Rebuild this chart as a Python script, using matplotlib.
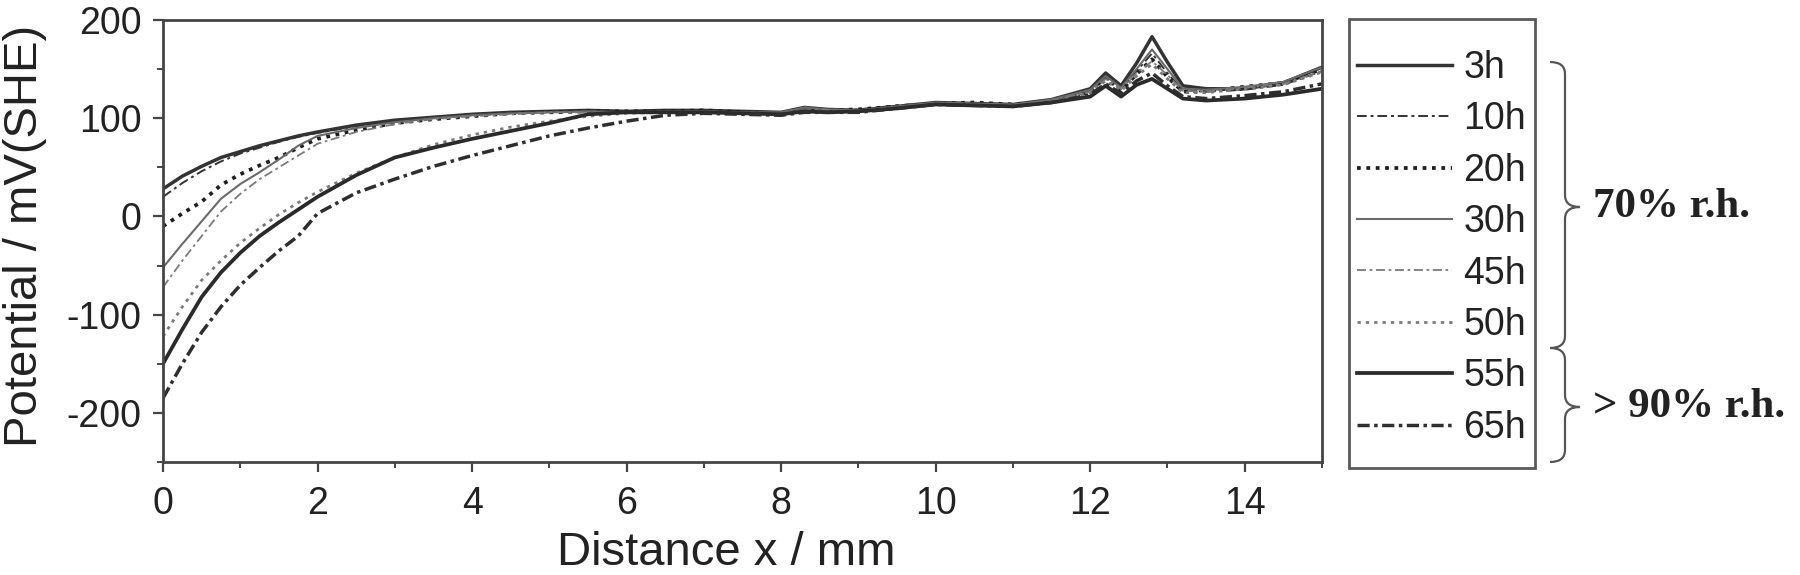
import matplotlib
matplotlib.use("Agg")
import matplotlib.pyplot as plt
from matplotlib.ticker import MultipleLocator
from matplotlib.patches import Rectangle, PathPatch
from matplotlib.path import Path

# ---------------- data ----------------
distance_mm = [0, 0.25, 0.5, 0.75, 1.0, 1.25, 1.5, 1.75, 2.0, 2.5, 3.0, 3.5, 4.0, 4.5, 5.0,
               5.5, 6.0, 6.5, 7.0, 7.5, 8.0, 8.3, 8.6, 9.0, 9.5, 10.0, 10.5, 11.0, 11.5,
               12.0, 12.2, 12.4, 12.6, 12.8, 13.0, 13.2, 13.5, 14.0, 14.5, 15.0]

pot_3h = [28, 41, 51, 60, 66, 72, 77, 82, 86, 93, 98, 101, 104, 106, 107, 108, 107, 108, 108, 107,
          106, 111, 109, 108, 112, 116, 115, 114, 119, 130, 146, 133, 156, 183, 157, 133, 130, 130, 136, 152]
pot_10h = [20, 34, 46, 56, 64, 70, 76, 81, 85, 92, 97, 100, 103, 105, 107, 107, 106, 107, 108, 106,
           105, 110, 108, 109, 113, 116, 114, 113, 118, 128, 141, 130, 148, 166, 146, 128, 127, 129, 134, 148]
pot_20h = [-10, 3, 15, 32, 43, 52, 60, 70, 79, 88, 95, 99, 102, 105, 106, 107, 107, 107, 108, 106,
           105, 110, 108, 109, 112, 115, 116, 114, 118, 127, 142, 128, 145, 160, 142, 127, 128, 132, 136, 150]
pot_30h = [-52, -28, -5, 18, 33, 45, 58, 72, 82, 90, 96, 100, 103, 105, 106, 107, 106, 107, 107, 106,
           106, 111, 109, 108, 112, 116, 115, 114, 119, 129, 143, 131, 150, 170, 150, 130, 129, 132, 137, 152]
pot_45h = [-72, -45, -20, 5, 23, 38, 50, 62, 74, 86, 94, 99, 102, 104, 106, 106, 106, 106, 107, 106,
           105, 109, 108, 108, 111, 115, 114, 113, 118, 127, 140, 130, 146, 158, 144, 128, 127, 131, 135, 148]
pot_50h = [-122, -92, -65, -45, -27, -12, 2, 14, 25, 44, 60, 73, 83, 91, 97, 102, 105, 106, 106, 105,
           104, 108, 108, 107, 111, 115, 114, 113, 117, 126, 138, 128, 143, 155, 140, 126, 126, 130, 134, 147]
pot_55h = [-150, -115, -82, -57, -37, -20, -6, 7, 20, 42, 60, 70, 79, 87, 95, 104, 106, 106, 106, 105,
           104, 107, 106, 107, 110, 114, 113, 112, 116, 122, 133, 122, 134, 140, 130, 120, 118, 120, 124, 130]
pot_65h = [-185, -150, -118, -92, -70, -52, -35, -20, 3, 24, 38, 51, 62, 72, 82, 90, 97, 103, 105, 104,
           103, 106, 106, 106, 110, 114, 113, 112, 116, 124, 135, 125, 138, 146, 133, 122, 120, 123, 127, 135]

series_labels = ["3h", "10h", "20h", "30h", "45h", "50h", "55h", "65h"]
series_values = [pot_3h, pot_10h, pot_20h, pot_30h, pot_45h, pot_50h, pot_55h, pot_65h]
group_labels = ["70% r.h.", "> 90% r.h."]

# ---------------- styles ----------------
styles = [
    dict(color="#333333", lw=2.5, ls="-"),
    dict(color="#333333", lw=1.4, ls=(0, (5, 2, 1.5, 2))),
    dict(color="#1e1e1e", lw=2.7, ls=(0, (1, 1.5))),
    dict(color="#6a6a6a", lw=1.5, ls="-"),
    dict(color="#7a7a7a", lw=1.3, ls=(0, (5, 2, 1.5, 2))),
    dict(color="#7a7a7a", lw=2.0, ls=(0, (1.2, 1.8))),
    dict(color="#2a2a2a", lw=2.7, ls="-"),
    dict(color="#2e2e2e", lw=2.5, ls=(0, (3.5, 1.3, 1, 1.3))),
]

W, H = 1800, 575
plt.rcParams["font.family"] = ["Liberation Sans", "DejaVu Sans"]
plt.rcParams["axes.unicode_minus"] = False

fig = plt.figure(figsize=(W / 100, H / 100), dpi=100)
ax = fig.add_axes([163 / W, 1 - 462 / H, (1322 - 163) / W, (462 - 20) / H])

handles = []
for lab, vals, st in zip(series_labels, series_values, styles):
    h, = ax.plot(distance_mm, vals, color=st["color"], lw=st["lw"], ls=st["ls"], label=lab)
    handles.append(h)

ax.set_xlim(0, 15)
ax.set_ylim(-250, 200)
ax.xaxis.set_major_locator(MultipleLocator(2))
ax.xaxis.set_minor_locator(MultipleLocator(1))
ax.yaxis.set_major_locator(MultipleLocator(100))
ax.yaxis.set_minor_locator(MultipleLocator(50))

spine_col = "#454545"
for s in ax.spines.values():
    s.set_color(spine_col)
    s.set_linewidth(2.0)

ax.tick_params(axis="both", which="major", direction="out", length=7.5, width=1.6,
               color=spine_col, labelsize=27, labelcolor="#222222")
ax.tick_params(axis="both", which="minor", direction="out", length=4, width=1.4, color=spine_col)
ax.tick_params(axis="x", which="both", top=False, pad=10)
ax.tick_params(axis="y", which="both", right=False, pad=8)

# axis labels
fig.text(25 / W, 1 - 236 / H, "Potential / mV(SHE)", rotation=90, ha="center", va="center",
         fontsize=34, color="#222222")
fig.text(726 / W, 1 - 553 / H, "Distance x / mm", ha="center", va="center",
         fontsize=34, color="#222222")

# legend box
fig.add_artist(Rectangle((1349 / W, 1 - 468 / H), (1535 - 1349) / W, (468 - 19) / H,
                         transform=fig.transFigure, fill=False, edgecolor="#5a5a5a", lw=2.0))
fs_leg = 27
fig.legend(handles, series_labels, loc="upper left",
           bbox_to_anchor=(1357 / W, 1 - 50 / H), frameon=False, fontsize=fs_leg,
           borderpad=0, borderaxespad=0, handlelength=2.53, handletextpad=0.3,
           labelspacing=0.41, labelcolor="#222222")


def brace(top, bot, tip, x0=1550, xm=1565, xt=1580, r=12):
    pts = [(x0, top), (xm, top), (xm, top + r), (xm, tip - r), (xm, tip), (xt, tip),
           (xm, tip), (xm, tip + r), (xm, bot - r), (xm, bot), (x0, bot)]
    codes = [Path.MOVETO, Path.CURVE3, Path.CURVE3, Path.LINETO, Path.CURVE3, Path.CURVE3,
             Path.CURVE3, Path.CURVE3, Path.LINETO, Path.CURVE3, Path.CURVE3]
    verts = [(x / W, 1 - y / H) for x, y in pts]
    fig.add_artist(PathPatch(Path(verts, codes), transform=fig.transFigure, fill=False,
                             edgecolor="#555555", lw=1.6))


brace(62, 348, 207)
brace(348, 462, 407)

serif = ["Liberation Serif", "DejaVu Serif"]
fig.text(1593 / W, 1 - 207 / H, group_labels[0], ha="left", va="center", fontsize=31,
         fontweight="bold", family=serif, color="#222222")
fig.text(1593 / W, 1 - 407 / H, group_labels[1], ha="left", va="center", fontsize=31,
         fontweight="bold", family=serif, color="#222222")

fig.savefig("out.png", dpi=100)
